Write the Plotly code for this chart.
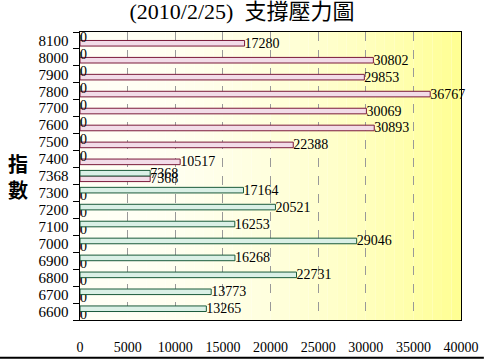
import plotly.graph_objects as go

categories = ["6600", "6700", "6800", "6900", "7000", "7100", "7200", "7300", "7368",
              "7400", "7500", "7600", "7700", "7800", "7900", "8000", "8100"]
support = [13265, 13773, 22731, 16268, 29046, 16253, 20521, 17164, 7368,
           0, 0, 0, 0, 0, 0, 0, 0]
pressure = [0, 0, 0, 0, 0, 0, 0, 0, 7368,
            10517, 22388, 30893, 30069, 36767, 29853, 30802, 17280]
x_ticks = [0, 5000, 10000, 15000, 20000, 25000, 30000, 35000, 40000]

FONT = "Liberation Serif, Noto Sans CJK TC, serif"

fig = go.Figure()
fig.add_trace(go.Bar(
    y=categories, x=pressure, orientation="h", name="壓力",
    marker=dict(color="#F2DCE8", line=dict(color="#7A1A3A", width=1)),
    text=[str(v) for v in pressure], textposition="outside",
    constraintext="none", cliponaxis=False,
    textfont=dict(family=FONT, size=14, color="black"),
))
fig.add_trace(go.Bar(
    y=categories, x=support, orientation="h", name="支撐",
    marker=dict(color="#DAF0E6", line=dict(color="#1A5A3A", width=1)),
    text=[str(v) for v in support], textposition="outside",
    constraintext="none", cliponaxis=False,
    textfont=dict(family=FONT, size=14, color="black"),
))

# background gradient (pale at left to yellow at right)
shapes = []
n = 40
for i in range(n):
    t = (i + 0.5) / n
    b = int(246 - 100 * (t ** 2.0))
    shapes.append(dict(type="rect", xref="x domain", yref="y domain",
                       x0=i / n, x1=(i + 1) / n, y0=0, y1=1,
                       fillcolor=f"rgb(255,255,{b})", line=dict(width=0),
                       layer="below"))
# bottom border line
shapes.append(dict(type="line", xref="paper", yref="paper",
                   x0=-0.21, x1=1.06, y0=-0.131, y1=-0.131,
                   line=dict(color="black", width=2)))

fig.update_layout(
    width=484, height=360,
    margin=dict(l=80, r=23, t=32, b=40, autoexpand=False),
    paper_bgcolor="white",
    plot_bgcolor="rgba(0,0,0,0)",
    barmode="group", bargap=0.34, bargroupgap=0.0,
    showlegend=False,
    shapes=shapes,
    title=dict(text="(2010/2/25)  支撐壓力圖", x=0.5, xanchor="center",
               y=0.99, yanchor="top",
               font=dict(family=FONT, size=22, color="black")),
    font=dict(family=FONT, color="black"),
    annotations=[dict(text="<b>指</b><br><b>數</b>", xref="paper", yref="paper",
                      x=-0.163, y=0.5, xanchor="center", yanchor="middle",
                      showarrow=False,
                      font=dict(family="Noto Sans CJK TC", size=20, color="black"))],
)
fig.update_xaxes(range=[0, 40000], tickmode="array", tickvals=x_ticks,
                 ticktext=[str(v) for v in x_ticks], automargin=False,
                 showgrid=True, gridcolor="#999999", griddash="dash", gridwidth=1,
                 showline=True, linecolor="black", linewidth=1, mirror=True,
                 ticks="outside", ticklen=14, tickcolor="rgba(0,0,0,0)",
                 tickfont=dict(family=FONT, size=14), zeroline=False)
fig.update_yaxes(type="category", categoryorder="array", categoryarray=categories,
                 tickmode="array", tickvals=categories,
                 ticktext=[c + "\u2002" for c in categories],
                 automargin=False,
                 showline=True, linecolor="black", linewidth=1, mirror=True,
                 ticks="outside", ticklen=6, tickson="boundaries", tickcolor="black",
                 showgrid=False, tickfont=dict(family=FONT, size=15))

fig.write_html("out.html", config={"displayModeBar": False},
               post_script="document.body.style.margin='0';document.body.style.padding='0';")
